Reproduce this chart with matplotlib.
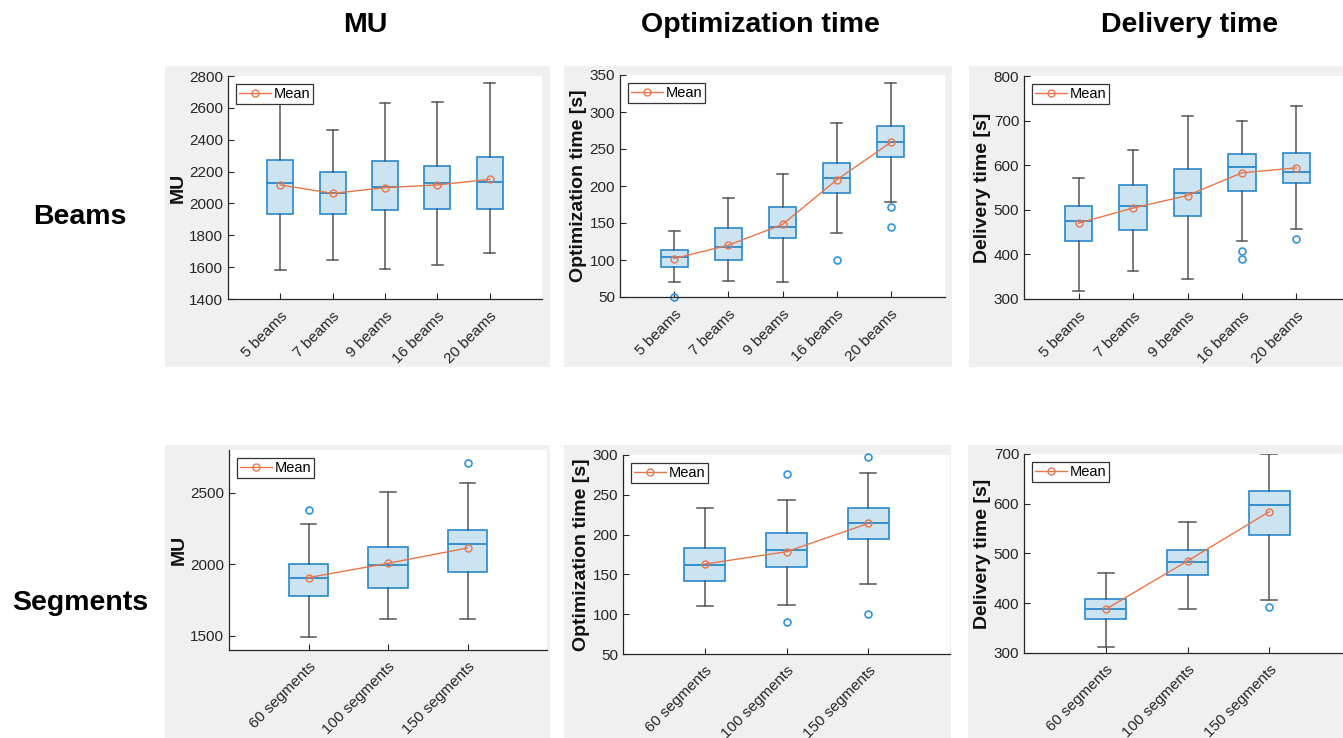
import matplotlib
matplotlib.use("Agg")
import matplotlib.pyplot as plt
from matplotlib.patches import Rectangle

plt.rcParams['font.family'] = ['Liberation Sans', 'DejaVu Sans']

# ---------------- data ----------------
beam_labels = ['5 beams', '7 beams', '9 beams', '16 beams', '20 beams']
seg_labels = ['60 segments', '100 segments', '150 segments']

mu_beam_lo = [1582, 1645, 1586, 1613, 1687]
mu_beam_q1 = [1933, 1933, 1956, 1963, 1963]
mu_beam_med = [2126, 2067, 2105, 2126, 2132]
mu_beam_q3 = [2273, 2199, 2266, 2237, 2293]
mu_beam_hi = [2660, 2461, 2633, 2637, 2758]
mu_beam_mean = [2116, 2063, 2099, 2116, 2151]
mu_beam_fliers = [[], [], [], [], []]

opt_beam_lo = [69.8, 71.1, 69.8, 136.3, 179]
opt_beam_q1 = [90.5, 99.9, 130, 191.2, 238.9]
opt_beam_med = [104.4, 117, 144.4, 210.6, 259.6]
opt_beam_q3 = [113.4, 143, 171.9, 230.8, 281.6]
opt_beam_hi = [139.5, 183.6, 216, 285.7, 338.8]
opt_beam_mean = [102, 120, 148, 208.3, 259]
opt_beam_fliers = [[50.4], [], [], [100.4], [171, 144]]

del_beam_lo = [318, 362, 345, 430, 457]
del_beam_q1 = [429, 455, 486, 542, 561]
del_beam_med = [474, 508, 538, 597, 585]
del_beam_q3 = [509, 555, 591, 625, 627]
del_beam_hi = [572, 633, 710, 698, 732]
del_beam_mean = [470, 504, 532, 583, 594]
del_beam_fliers = [[], [], [], [408, 390], [435]]

mu_seg_lo = [1493, 1615, 1615]
mu_seg_q1 = [1780, 1834, 1949]
mu_seg_med = [1907, 1995, 2142]
mu_seg_q3 = [2000, 2121, 2243]
mu_seg_hi = [2285, 2507, 2572]
mu_seg_mean = [1907, 2007, 2114]
mu_seg_fliers = [[2381], [], [2712]]

opt_seg_lo = [110, 112, 138]
opt_seg_q1 = [142, 159, 194]
opt_seg_med = [162, 181, 214]
opt_seg_q3 = [183, 202, 234]
opt_seg_hi = [233, 243, 278]
opt_seg_mean = [163, 178.5, 214]
opt_seg_fliers = [[], [276.5, 90], [298, 100]]

del_seg_lo = [312, 388, 407]
del_seg_q1 = [369, 456, 538]
del_seg_med = [388, 482, 598]
del_seg_q3 = [409, 508, 626]
del_seg_hi = [460, 564, 700]
del_seg_mean = [388, 485, 584]
del_seg_fliers = [[], [], [391.5]]

col_titles = ['MU', 'Optimization time', 'Delivery time']
row_titles = ['Beams', 'Segments']

# ---------------- style ----------------
W, H = 1343, 738
fig = plt.figure(figsize=(W / 100, H / 100), dpi=100)
fig.patch.set_facecolor('white')

PANEL_GRAY = '#f0f0f0'
BOX_EDGE = '#2a88cc'
BOX_FACE = '#cce3f2'
WHISK = '#555555'
MEAN_C = '#e8764a'
AX_C = '#262626'


def px_rect(l, t, r, b):
    return [l / W, 1 - b / H, (r - l) / W, (b - t) / H]


def gray_panel(l, t, r, b):
    fig.add_artist(Rectangle((l / W, 1 - b / H), (r - l) / W, (b - t) / H,
                             transform=fig.transFigure, facecolor=PANEL_GRAY,
                             edgecolor='none', zorder=-5))


def draw_panel(rect, labels, lo, q1, med, q3, hi, mean, fliers,
               ylim, yticks, ylabel, xmax):
    ax = fig.add_axes(px_rect(*rect))
    ax.set_facecolor('white')
    stats = []
    for i in range(len(labels)):
        stats.append(dict(whislo=lo[i], q1=q1[i], med=med[i], q3=q3[i],
                          whishi=hi[i], fliers=fliers[i], label=labels[i]))
    pos = list(range(1, len(labels) + 1))
    bp = ax.bxp(stats, positions=pos, widths=0.5, capwidths=0.2,
                patch_artist=True, showfliers=True,
                boxprops=dict(facecolor=BOX_FACE, edgecolor=BOX_EDGE, linewidth=1.2),
                medianprops=dict(color=BOX_EDGE, linewidth=1.3),
                whiskerprops=dict(color=WHISK, linewidth=1.1),
                capprops=dict(color=WHISK, linewidth=1.1),
                flierprops=dict(marker='o', markerfacecolor='none',
                                markeredgecolor='#2f95dd', markersize=5,
                                markeredgewidth=1.2, linestyle='none'))
    for f in bp['fliers']:
        f.set_clip_on(False)
    ax.plot(pos, mean, color=MEAN_C, linewidth=1.0, marker='o', markersize=5,
            markerfacecolor='none', markeredgecolor=MEAN_C, markeredgewidth=1.0,
            zorder=5, label='Mean')
    ax.set_xlim(0, xmax)
    ax.set_ylim(*ylim)
    ax.set_yticks(yticks)
    ax.set_xticks(pos)
    ax.set_xticklabels(labels, rotation=45, ha='right', rotation_mode='anchor',
                       fontsize=11, color=AX_C)
    ax.tick_params(axis='y', labelsize=11, labelcolor=AX_C)
    ax.tick_params(direction='in', length=4, width=0.8, color=AX_C)
    ax.tick_params(axis='x', pad=7)
    for s in ['top', 'right']:
        ax.spines[s].set_visible(False)
    for s in ['left', 'bottom']:
        ax.spines[s].set_color(AX_C)
        ax.spines[s].set_linewidth(0.9)
    ax.set_ylabel(ylabel, fontsize=14, fontweight='bold', color='#111111', labelpad=2)
    leg = ax.legend(loc='upper left', fontsize=10.5, frameon=True, fancybox=False,
                    edgecolor='#333333', framealpha=1, borderpad=0.2,
                    handlelength=2.2, handletextpad=0.2, borderaxespad=0.55)
    leg.get_frame().set_linewidth(0.9)
    return ax


# gray panels
gray_panel(165, 66, 550, 367)
gray_panel(564, 66, 952, 367)
gray_panel(969, 66, 1343, 367)
gray_panel(165, 445, 550, 738)
gray_panel(564, 445, 951, 738)
gray_panel(968, 445, 1343, 738)

draw_panel((228, 76, 542, 299), beam_labels, mu_beam_lo, mu_beam_q1, mu_beam_med,
           mu_beam_q3, mu_beam_hi, mu_beam_mean, mu_beam_fliers,
           (1400, 2800), list(range(1400, 2801, 200)), 'MU', 6)
draw_panel((620, 75, 945, 297), beam_labels, opt_beam_lo, opt_beam_q1, opt_beam_med,
           opt_beam_q3, opt_beam_hi, opt_beam_mean, opt_beam_fliers,
           (50, 350), list(range(50, 351, 50)), 'Optimization time [s]', 6)
draw_panel((1024, 76, 1351, 299), beam_labels, del_beam_lo, del_beam_q1, del_beam_med,
           del_beam_q3, del_beam_hi, del_beam_mean, del_beam_fliers,
           (300, 800), list(range(300, 801, 100)), 'Delivery time [s]', 6)
draw_panel((229, 450, 547, 650), seg_labels, mu_seg_lo, mu_seg_q1, mu_seg_med,
           mu_seg_q3, mu_seg_hi, mu_seg_mean, mu_seg_fliers,
           (1400, 2800), [1500, 2000, 2500], 'MU', 4)
draw_panel((623, 455, 950, 654), seg_labels, opt_seg_lo, opt_seg_q1, opt_seg_med,
           opt_seg_q3, opt_seg_hi, opt_seg_mean, opt_seg_fliers,
           (50, 300), list(range(50, 301, 50)), 'Optimization time [s]', 4)
draw_panel((1024, 454, 1351, 653), seg_labels, del_seg_lo, del_seg_q1, del_seg_med,
           del_seg_q3, del_seg_hi, del_seg_mean, del_seg_fliers,
           (300, 700), list(range(300, 701, 100)), 'Delivery time [s]', 4)

# headers
for x, t in zip([365, 760, 1190], col_titles):
    fig.text(x / W, 1 - 25 / H, t, ha='center', va='center', fontsize=20.5,
             fontweight='bold', color='black')
for y, t in zip([217, 603], row_titles):
    fig.text(80 / W, 1 - y / H, t, ha='center', va='center', fontsize=20.5,
             fontweight='bold', color='black')

fig.savefig('out.png', dpi=100, facecolor='white')
